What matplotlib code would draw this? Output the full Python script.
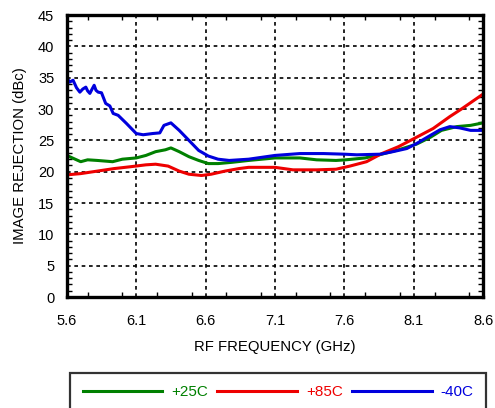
import matplotlib
matplotlib.use("Agg")
import matplotlib.pyplot as plt
from matplotlib.ticker import MultipleLocator

plt.rcParams['font.family'] = ['Liberation Sans', 'DejaVu Sans']

# данные
freq_25 = [5.60, 5.66, 5.70, 5.75, 5.82, 5.93, 6.00, 6.10, 6.17, 6.24, 6.31, 6.35, 6.41,
           6.48, 6.55, 6.62, 6.69, 6.79, 6.91, 7.10, 7.28, 7.40, 7.54, 7.61, 7.75, 7.87,
           7.99, 8.12, 8.22, 8.30, 8.41, 8.51, 8.60]
ir_25 = [22.6, 22.0, 21.6, 21.9, 21.8, 21.6, 22.0, 22.2, 22.6, 23.2, 23.5, 23.8, 23.2,
         22.4, 21.8, 21.3, 21.3, 21.5, 21.8, 22.2, 22.2, 21.9, 21.8, 21.9, 22.2, 22.8,
         23.5, 24.4, 25.5, 26.6, 27.2, 27.4, 27.8]

freq_85 = [5.60, 5.70, 5.82, 5.94, 6.06, 6.17, 6.24, 6.33, 6.41, 6.48, 6.57, 6.64, 6.74,
           6.84, 6.91, 7.10, 7.23, 7.40, 7.54, 7.64, 7.76, 7.87, 7.99, 8.12, 8.24, 8.36,
           8.45, 8.60]
ir_85 = [19.5, 19.7, 20.1, 20.5, 20.8, 21.1, 21.2, 20.9, 20.1, 19.6, 19.4, 19.6, 20.1,
         20.5, 20.7, 20.7, 20.3, 20.3, 20.4, 20.9, 21.6, 22.9, 24.0, 25.5, 26.9, 28.8,
         30.1, 32.4]

freq_m40 = [5.60, 5.62, 5.645, 5.67, 5.694, 5.715, 5.737, 5.75, 5.766, 5.78, 5.797, 5.81,
            5.826, 5.85, 5.88, 5.91, 5.934, 5.97, 6.03, 6.10, 6.15, 6.22, 6.27, 6.30, 6.35,
            6.41, 6.48, 6.55, 6.62, 6.69, 6.77, 6.91, 7.10, 7.28, 7.45, 7.60, 7.69, 7.86,
            7.95, 8.05, 8.12, 8.22, 8.29, 8.36, 8.43, 8.51, 8.60]
ir_m40 = [35.0, 34.3, 34.6, 33.4, 32.7, 33.2, 33.5, 32.9, 32.5, 33.1, 33.8, 33.0,
          32.7, 32.6, 30.9, 30.5, 29.3, 29.0, 27.7, 26.1, 25.9, 26.1, 26.2, 27.4, 27.8,
          26.6, 25.0, 23.4, 22.5, 22.0, 21.8, 22.0, 22.6, 22.9, 22.9, 22.8, 22.7, 22.8,
          23.2, 23.7, 24.5, 25.8, 26.7, 27.2, 27.0, 26.6, 26.6]

x_ticks = [5.6, 6.1, 6.6, 7.1, 7.6, 8.1, 8.6]
x_tick_labels = ['5.6', '6.1', '6.6', '7.1', '7.6', '8.1', '8.6']
y_ticks = list(range(0, 50, 5))

fig = plt.figure(figsize=(4.95, 4.08), dpi=100)
ax = fig.add_axes([0.135, 0.272, 0.841, 0.691])

ax.plot(freq_25, ir_25, color='#008000', lw=2.2, label='+25C')
ax.plot(freq_85, ir_85, color='#ee0000', lw=2.2, label='+85C')
ax.plot(freq_m40, ir_m40, color='#0000dd', lw=2.2, label='-40C')

ax.set_xlim(5.6, 8.6)
ax.set_ylim(0, 45)
ax.set_xticks(x_ticks)
ax.set_xticklabels(x_tick_labels)
ax.set_yticks(y_ticks)
ax.xaxis.set_minor_locator(MultipleLocator(0.25))
ax.yaxis.set_minor_locator(MultipleLocator(1))

ax.grid(True, which='major', color='black', linestyle=(0, (2.2, 2.2)), lw=1.2)
ax.tick_params(which='both', direction='in', top=True, right=True, labelsize=10.5, color='black')
ax.tick_params(which='major', length=0)
ax.tick_params(axis='x', which='major', pad=12)
ax.tick_params(axis='y', which='major', pad=9)
ax.tick_params(which='minor', length=3.5, width=1)
for s in ax.spines.values():
    s.set_linewidth(2.4)

ax.set_xlabel('RF FREQUENCY (GHz)', fontsize=10.7, labelpad=9)
ax.set_ylabel('IMAGE REJECTION (dBc)', fontsize=10.7, labelpad=8)

leg = fig.legend(loc='upper left', bbox_to_anchor=(0.142, 0.086, 0.84, 0.0),
                 mode='expand', ncol=3, fontsize=11, labelcolor='linecolor',
                 frameon=True, fancybox=False, edgecolor='black', borderpad=0.8,
                 handlelength=5.2, handletextpad=0.6, columnspacing=1.0, borderaxespad=0)
leg.get_frame().set_linewidth(1.6)

fig.savefig('out.png', dpi=100)
